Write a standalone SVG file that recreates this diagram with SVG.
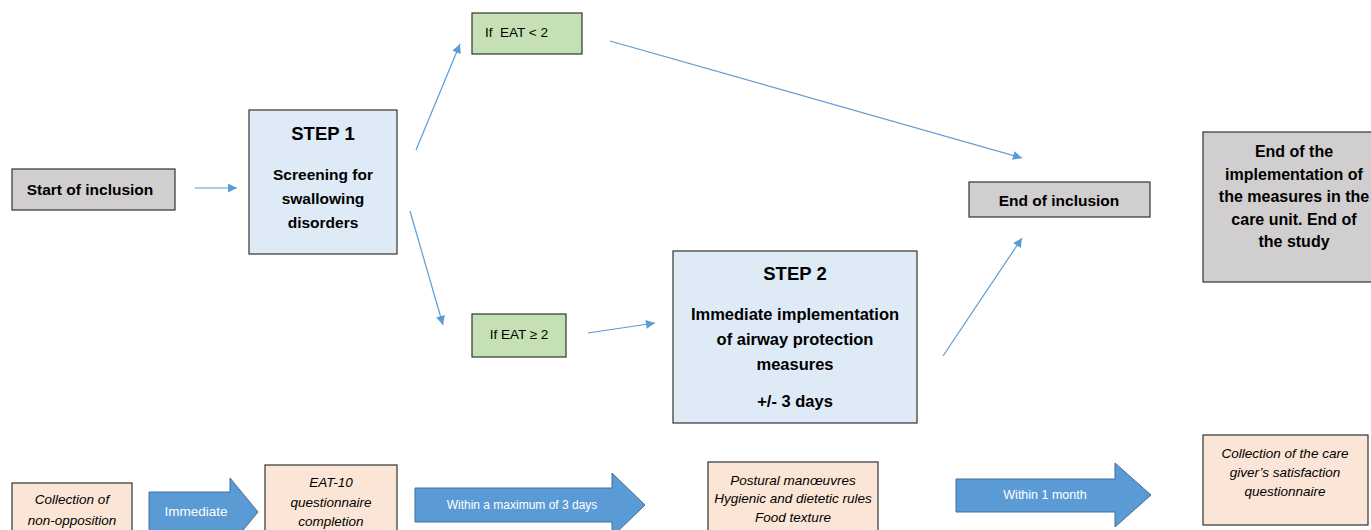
<svg xmlns="http://www.w3.org/2000/svg" width="1371" height="530" viewBox="0 0 1371 530">
<defs>
<marker id="ah" viewBox="0 0 10 10" refX="10" refY="5" markerWidth="11" markerHeight="9" markerUnits="userSpaceOnUse" orient="auto">
<path d="M0,0 L10,5 L0,10 z" fill="#5b9bd5"/>
</marker>
<style>
.box{stroke:#333;stroke-width:1.2}
.gray{fill:#d0cece}
.blue{fill:#deebf7}
.green{fill:#c5e0b4}
.peach{fill:#fbe5d6}
.t{font-family:"Liberation Sans",Arial,sans-serif;fill:#000;text-anchor:middle;dominant-baseline:central}
.b{font-weight:bold}
.i{font-style:italic}
.conn line{stroke:#5b9bd5;stroke-width:1.2;marker-end:url(#ah)}
.blk{fill:#5b9bd5;stroke:#41719c;stroke-width:1}
.w{font-family:"Liberation Sans",Arial,sans-serif;fill:#fff;text-anchor:middle;dominant-baseline:central}
</style>
</defs>
<rect width="1371" height="530" fill="#fff"/>

<g id="connectors" class="conn">
<line x1="195" y1="188" x2="237" y2="188"/>
<line x1="416" y1="150" x2="460" y2="44"/>
<line x1="410" y1="211" x2="443" y2="325"/>
<line x1="588" y1="333" x2="655" y2="323"/>
<line x1="610" y1="41" x2="1022" y2="158"/>
<line x1="943" y1="356" x2="1022" y2="238"/>
</g>

<g id="start">
<rect class="box gray" x="12" y="169" width="163" height="41"/>
<text class="t b" x="90" y="189" font-size="15.5">Start of inclusion</text>
</g>

<g id="step1">
<rect class="box blue" x="249" y="110" width="148" height="144"/>
<text class="t b" x="323" y="133" font-size="18.5">STEP 1</text>
<text class="t b" x="323" y="174" font-size="15.5">Screening for</text>
<text class="t b" x="323" y="198" font-size="15.5">swallowing</text>
<text class="t b" x="323" y="222" font-size="15.5">disorders</text>
</g>

<g id="eat-low">
<rect class="box green" x="472" y="13" width="110" height="41"/>
<text class="t" x="485" y="32" font-size="13.5" style="text-anchor:start">If&#160; EAT &lt; 2</text>
</g>

<g id="eat-high">
<rect class="box green" x="472" y="314" width="94" height="43"/>
<text class="t" x="519" y="334" font-size="13.5">If EAT ≥ 2</text>
</g>

<g id="step2">
<rect class="box blue" x="673" y="251" width="244" height="172"/>
<text class="t b" x="795" y="273" font-size="18.5">STEP 2</text>
<text class="t b" x="795" y="314" font-size="16.5">Immediate implementation</text>
<text class="t b" x="795" y="339" font-size="16.5">of airway protection</text>
<text class="t b" x="795" y="364" font-size="16.5">measures</text>
<text class="t b" x="795" y="401" font-size="16.5">+/- 3 days</text>
</g>

<g id="end-inclusion">
<rect class="box gray" x="969" y="182" width="181" height="35"/>
<text class="t b" x="1059" y="200" font-size="15.5">End of inclusion</text>
</g>

<g id="end-study">
<rect class="box gray" x="1203" y="132" width="170" height="150"/>
<text class="t b" x="1294" y="151" font-size="16">End of the</text>
<text class="t b" x="1294" y="174" font-size="16">implementation of</text>
<text class="t b" x="1294" y="196" font-size="16">the measures in the</text>
<text class="t b" x="1294" y="219" font-size="16">care unit. End of</text>
<text class="t b" x="1294" y="241" font-size="16">the study</text>
</g>

<g id="non-opposition">
<rect class="box peach" x="12" y="483" width="120" height="60"/>
<text class="t i" x="72" y="499" font-size="13.5">Collection of</text>
<text class="t i" x="72" y="520" font-size="13.5">non-opposition</text>
</g>

<g id="arrow-immediate">
<polygon class="blk" points="149,492 230,492 230,478 258,512 230,546 230,532 149,532"/>
<text class="w" x="196" y="511" font-size="13.5">Immediate</text>
</g>

<g id="eat10">
<rect class="box peach" x="265" y="465" width="132" height="80"/>
<text class="t i" x="331" y="482" font-size="13.5">EAT-10</text>
<text class="t i" x="331" y="502" font-size="13.5">questionnaire</text>
<text class="t i" x="331" y="521" font-size="13.5">completion</text>
</g>

<g id="arrow-3days">
<polygon class="blk" points="415,488 612,488 612,473 645,505 612,537 612,522 415,522"/>
<text class="w" x="522" y="505" font-size="12">Within a maximum of 3 days</text>
</g>

<g id="measures">
<rect class="box peach" x="708" y="462" width="170" height="80"/>
<text class="t i" x="793" y="480" font-size="13.5">Postural manœuvres</text>
<text class="t i" x="793" y="498" font-size="13.5">Hygienic and dietetic rules</text>
<text class="t i" x="793" y="517" font-size="13.5">Food texture</text>
</g>

<g id="arrow-month">
<polygon class="blk" points="956,479 1115,479 1115,463 1151,495 1115,527 1115,512 956,512"/>
<text class="w" x="1045" y="495" font-size="12.5">Within 1 month</text>
</g>

<g id="satisfaction">
<rect class="box peach" x="1203" y="435" width="165" height="90"/>
<text class="t i" x="1285" y="453" font-size="13.5">Collection of the care</text>
<text class="t i" x="1285" y="472" font-size="13.5">giver’s satisfaction</text>
<text class="t i" x="1285" y="491" font-size="13.5">questionnaire</text>
</g>
</svg>
